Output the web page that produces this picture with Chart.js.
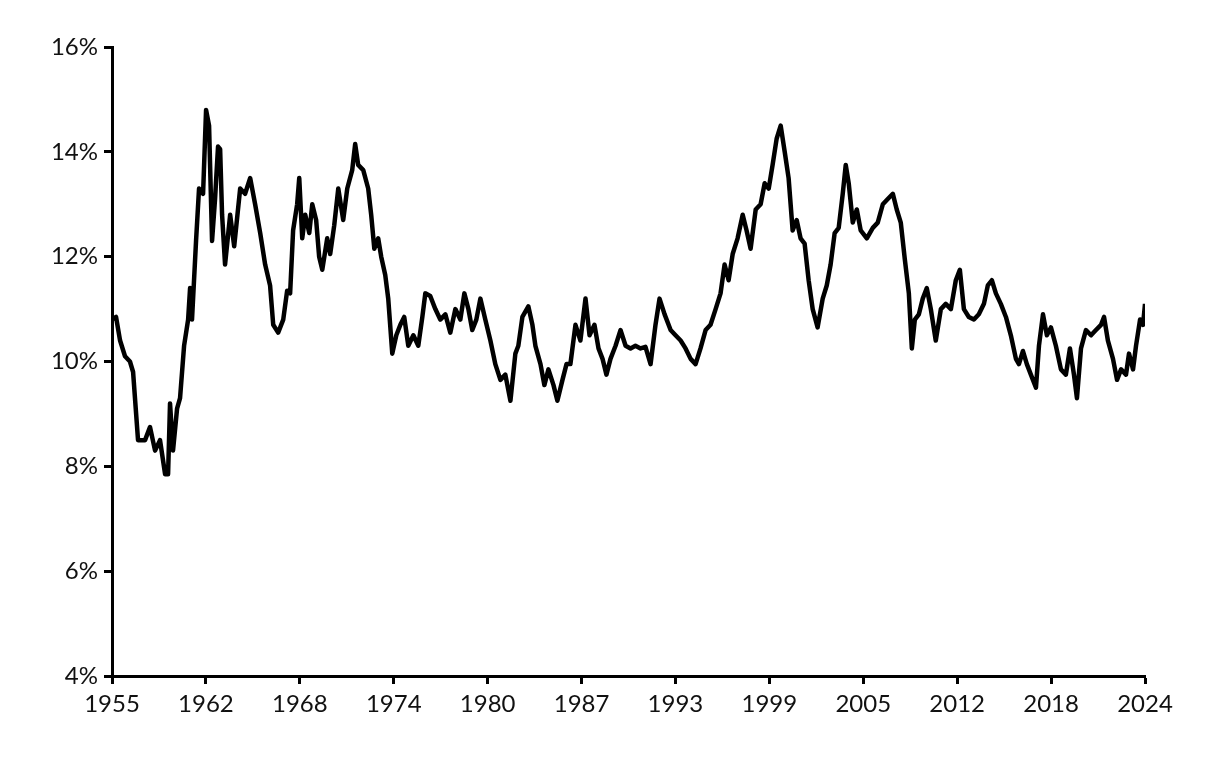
<!DOCTYPE html>
<html><head><meta charset="utf-8">
<script src="https://cdn.jsdelivr.net/npm/chart.js@4/dist/chart.umd.min.js"></script>
<style>html,body{margin:0;padding:0;background:#fff;overflow:hidden}canvas{display:block}</style>
</head><body><canvas id="c" width="1217" height="762"></canvas>
<script>
const years = [1955.00,1955.27,1955.54,1955.87,1956.20,1956.41,1956.74,1957.21,1957.54,1957.88,1958.21,1958.55,1958.75,1958.88,1959.08,1959.35,1959.55,1959.82,1960.09,1960.22,1960.35,1960.62,1960.82,1961.09,1961.29,1961.49,1961.69,1961.89,1962.09,1962.23,1962.36,1962.56,1962.90,1963.17,1963.57,1963.90,1964.24,1964.57,1964.91,1965.24,1965.57,1965.78,1966.11,1966.45,1966.71,1966.91,1967.11,1967.38,1967.52,1967.72,1967.92,1968.19,1968.39,1968.65,1968.85,1969.06,1969.39,1969.59,1969.86,1970.13,1970.46,1970.73,1971.06,1971.26,1971.46,1971.80,1972.13,1972.33,1972.54,1972.80,1973.00,1973.27,1973.47,1973.74,1974.01,1974.28,1974.54,1974.81,1975.15,1975.48,1975.75,1975.95,1976.28,1976.62,1976.95,1977.29,1977.62,1977.96,1978.29,1978.56,1978.83,1979.09,1979.36,1979.63,1979.96,1980.30,1980.63,1980.97,1981.30,1981.64,1981.97,1982.17,1982.44,1982.84,1983.11,1983.31,1983.65,1983.91,1984.18,1984.52,1984.78,1985.12,1985.39,1985.65,1985.99,1986.32,1986.66,1986.93,1987.26,1987.53,1987.80,1988.06,1988.33,1988.67,1989.00,1989.34,1989.67,1990.00,1990.34,1990.67,1991.01,1991.34,1991.61,1991.95,1992.35,1992.68,1993.02,1993.35,1993.69,1994.02,1994.35,1994.69,1995.02,1995.36,1995.69,1995.96,1996.23,1996.50,1996.83,1997.17,1997.43,1997.70,1998.04,1998.37,1998.64,1998.91,1999.17,1999.44,1999.71,1999.98,2000.24,2000.51,2000.78,2001.04,2001.31,2001.58,2001.85,2002.18,2002.52,2002.79,2003.05,2003.32,2003.59,2003.86,2004.06,2004.26,2004.53,2004.80,2005.06,2005.47,2005.87,2006.20,2006.54,2006.87,2007.21,2007.47,2007.74,2008.01,2008.28,2008.48,2008.68,2008.95,2009.21,2009.48,2009.75,2010.08,2010.42,2010.75,2011.09,2011.42,2011.69,2011.96,2012.29,2012.63,2012.96,2013.30,2013.56,2013.83,2014.10,2014.43,2014.77,2015.10,2015.44,2015.64,2015.91,2016.17,2016.44,2016.78,2016.98,2017.25,2017.51,2017.78,2018.11,2018.45,2018.78,2019.05,2019.32,2019.52,2019.79,2020.12,2020.46,2020.79,2021.13,2021.33,2021.59,2021.93,2022.20,2022.47,2022.80,2023.00,2023.27,2023.47,2023.74,2023.94,2024.07];
const values = [10.8,10.85,10.4,10.1,10.0,9.8,8.5,8.5,8.75,8.3,8.5,7.85,7.85,9.2,8.3,9.1,9.3,10.3,10.8,11.4,10.8,12.3,13.3,13.2,14.8,14.5,12.3,13.1,14.1,14.05,12.8,11.85,12.8,12.2,13.3,13.2,13.5,13.0,12.45,11.85,11.45,10.7,10.55,10.8,11.35,11.3,12.5,13.0,13.5,12.35,12.8,12.45,13.0,12.7,12.0,11.75,12.35,12.05,12.6,13.3,12.7,13.3,13.65,14.15,13.75,13.65,13.3,12.8,12.15,12.35,12.0,11.65,11.2,10.15,10.5,10.7,10.85,10.3,10.5,10.3,10.85,11.3,11.25,11.0,10.8,10.9,10.55,11.0,10.8,11.3,11.0,10.6,10.8,11.2,10.8,10.4,9.95,9.65,9.75,9.25,10.15,10.3,10.85,11.05,10.7,10.3,9.95,9.55,9.85,9.55,9.25,9.65,9.95,9.95,10.7,10.4,11.2,10.5,10.7,10.25,10.05,9.75,10.05,10.3,10.6,10.3,10.25,10.3,10.25,10.28,9.95,10.7,11.2,10.9,10.6,10.5,10.4,10.25,10.05,9.95,10.25,10.6,10.7,11.0,11.3,11.85,11.55,12.05,12.35,12.8,12.5,12.15,12.9,13.0,13.4,13.3,13.75,14.25,14.5,14.0,13.5,12.5,12.7,12.35,12.25,11.55,11.0,10.65,11.2,11.45,11.85,12.45,12.55,13.2,13.75,13.4,12.65,12.9,12.5,12.35,12.55,12.65,13.0,13.1,13.2,12.9,12.65,11.95,11.3,10.25,10.8,10.9,11.2,11.4,11.0,10.4,11.0,11.1,11.0,11.55,11.75,11.0,10.85,10.8,10.9,11.1,11.45,11.55,11.3,11.1,10.85,10.5,10.05,9.95,10.2,9.95,9.75,9.5,10.3,10.9,10.5,10.65,10.3,9.85,9.75,10.25,9.75,9.3,10.25,10.6,10.5,10.6,10.7,10.85,10.4,10.05,9.65,9.85,9.75,10.15,9.85,10.3,10.8,10.7,11.1];
const xTickLabels = ['1955','1962','1968','1974','1980','1987','1993','1999','2005','2012','2018','2024'];
const yTicks = [4,6,8,10,12,14,16];

const xMin = years[0], xMax = years[years.length-1];
const step = (xMax - xMin) / (xTickLabels.length - 1);
const font = {family:'Lato, "Open Sans", sans-serif', size:24};
new Chart(document.getElementById('c'), {
  type:'line',
  data:{datasets:[{data: years.map((y,i)=>({x:y,y:values[i]})), borderColor:'#000', borderWidth:4.5, pointRadius:0, tension:0, borderJoinStyle:'round'}]},
  options:{
    responsive:false, animation:false, devicePixelRatio:1,
    layout:{padding:{top:47,right:72,left:0,bottom:0}},
    plugins:{legend:{display:false},tooltip:{enabled:false}},
    scales:{
      x:{type:'linear', min:xMin, max:xMax,
        afterBuildTicks:s=>{s.ticks = xTickLabels.map((l,i)=>({value:xMin+i*step}));},
        ticks:{autoSkip:false, maxRotation:0, color:'#111', font, padding:6, callback:(v,i)=>xTickLabels[i]},
        grid:{display:true, drawOnChartArea:false, tickLength:8, tickWidth:3, color:'#000'},
        border:{color:'#000', width:3},
        afterFit:s=>{s.height=86;}
      },
      y:{min:4,max:16,
        afterBuildTicks:s=>{s.ticks = yTicks.map(v=>({value:v}));},
        ticks:{color:'#111', font, padding:6, callback:v=>v+'%'},
        grid:{display:true, drawOnChartArea:false, tickLength:8, tickWidth:3, color:'#000'},
        border:{color:'#000', width:3},
        afterFit:s=>{s.width=112;}
      }
    }
  }
});
</script></body></html>
